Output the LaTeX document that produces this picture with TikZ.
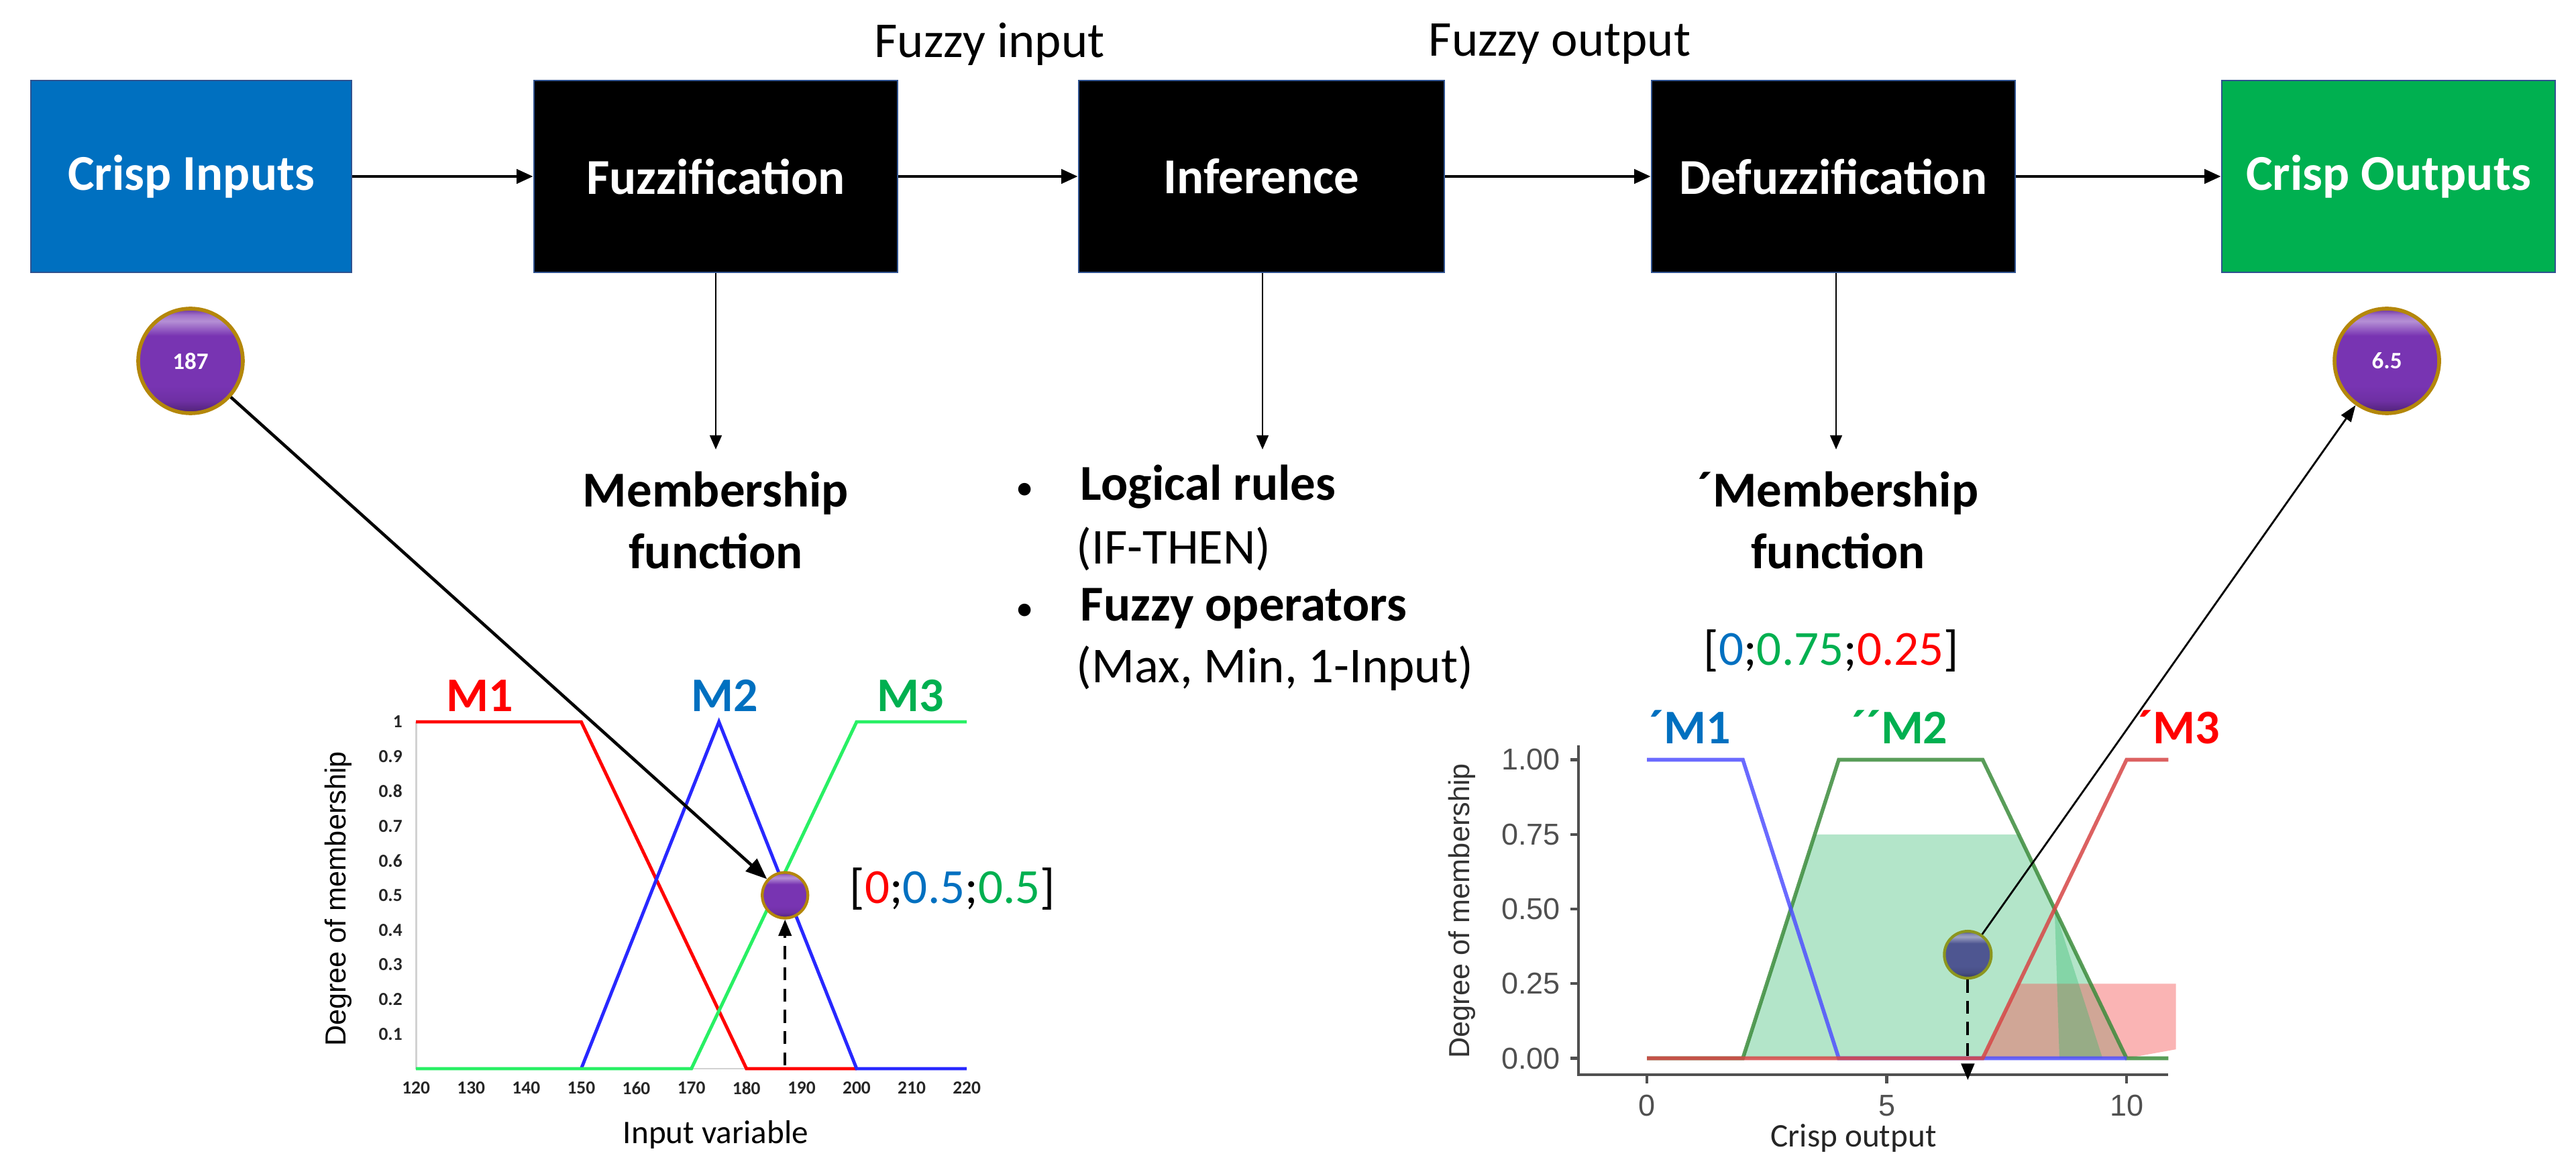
\documentclass[tikz,border=0pt]{standalone}
\usepackage{fontspec}
\setmainfont{Carlito}
\newfontfamily\arialf{Liberation Sans}
\usetikzlibrary{arrows.meta,shadings}
\definecolor{cblue}{RGB}{0,112,192}
\definecolor{cgreen}{RGB}{0,176,80}
\definecolor{bord}{RGB}{47,82,143}
\definecolor{bpurple}{RGB}{120,52,178}
\definecolor{bgold}{RGB}{180,135,10}
\definecolor{lred}{RGB}{255,0,0}
\definecolor{lblue}{RGB}{40,40,255}
\definecolor{lgreen}{RGB}{40,240,100}
\definecolor{rblue}{RGB}{80,80,255}
\definecolor{rgreen}{RGB}{60,140,60}
\definecolor{rred}{RGB}{215,70,70}
\definecolor{fgreen}{RGB}{46,184,106}
\definecolor{fred}{RGB}{245,90,90}
\definecolor{rballc}{RGB}{78,86,145}
\definecolor{rballb}{RGB}{140,150,30}
\definecolor{axgray}{RGB}{80,80,80}
\pgfdeclareverticalshading{purpball}{100bp}{color(0bp)=(bpurple!65!black); color(25bp)=(bpurple!65!black); color(31bp)=(bpurple!92!black); color(38bp)=(bpurple); color(62bp)=(bpurple); color(69bp)=(bpurple!55!white); color(72bp)=(bpurple!70!white); color(75bp)=(bpurple!85!black); color(100bp)=(bpurple!85!black)}
\pgfdeclareverticalshading{slateball}{100bp}{color(0bp)=(rballc!65!black); color(25bp)=(rballc!65!black); color(31bp)=(rballc!92!black); color(38bp)=(rballc); color(62bp)=(rballc); color(69bp)=(rballc!55!white); color(72bp)=(rballc!70!white); color(75bp)=(rballc!85!black); color(100bp)=(rballc!85!black)}
\tikzset{
  box/.style={draw=bord, line width=0.8pt, minimum height=2.86cm, inner sep=0pt,
    text=white, font=\fontsize{21.3}{25}\selectfont\bfseries},
  lbl/.style={inner sep=0pt, font=\fontsize{21.3}{25}\selectfont},
  blbl/.style={inner sep=0pt, font=\fontsize{21.3}{25}\selectfont\bfseries},
  bullet/.style={inner sep=0pt, font=\fontsize{15}{18}\selectfont},
  mlbl/.style={inner sep=0pt, font=\fontsize{20.5}{24}\selectfont\bfseries},
  vlbl/.style={inner sep=0pt, font=\fontsize{20.8}{24}\selectfont},
  harrow/.style={line width=1.3pt, -{Triangle[length=7pt,width=6pt]}},
  varrow/.style={line width=0.8pt, -{Triangle[length=6pt,width=5pt]}},
  bigarrow/.style={line width=1.3pt, -{Triangle[length=9pt,width=7pt]}},
  thinarrow/.style={line width=0.8pt, -{Triangle[length=7pt,width=5pt]}},
  dasharrow/.style={line width=1.1pt, dash pattern=on 5.5pt off 3.5pt, -{Triangle[length=7pt,width=5.5pt]}},
  valball/.style={circle, minimum size=1.56cm, inner sep=0pt, shading=purpball, draw=bgold, line width=1.6pt,
    text=white, font=\fontsize{10}{12}\selectfont\bfseries},
  lballst/.style={circle, minimum size=0.68cm, inner sep=0pt, shading=purpball, draw=bgold, line width=1.2pt},
  rballst/.style={circle, minimum size=0.70cm, inner sep=0pt, shading=slateball, draw=rballb, line width=1.2pt},
  ltick/.style={inner sep=0pt, font=\fontsize{7.8}{9}\selectfont\bfseries, text=black!85},
  rtick/.style={inner sep=0pt, font=\fontsize{12.8}{15}\selectfont\arialf, text=axgray},
  lcurve/.style={line width=1.4pt},
  rcurve/.style={line width=1.6pt, opacity=0.85},
}
\begin{document}
\begin{tikzpicture}
\useasboundingbox (0,0) rectangle (38.4,-17.5);
\fill[white] (0,0) rectangle (38.4,-17.5);

% top row
\node[box, fill=cblue, minimum width=4.78cm] (ci) at (2.85,-2.63) {Crisp Inputs};
\node[box, fill=black, minimum width=5.42cm] (fz) at (10.67,-2.63) {Fuzzification};
\node[box, fill=black, minimum width=5.45cm] (inf) at (18.805,-2.63) {Inference};
\node[box, fill=black, minimum width=5.42cm] (dfz) at (27.33,-2.63) {Defuzzification};
\node[box, fill=cgreen, minimum width=4.97cm] (co) at (35.605,-2.63) {Crisp Outputs};

\node[lbl] (fin) at (14.75,-0.66) {Fuzzy input};
\node[lbl] (fout) at (23.25,-0.66) {Fuzzy output};

\draw[harrow] (ci) -- (fz);
\draw[harrow] (fz) -- (inf);
\draw[harrow] (inf) -- (dfz);
\draw[harrow] (dfz) -- (co);

% down arrows and texts
\coordinate (fzend) at (10.67,-6.70);
\coordinate (infend) at (18.82,-6.70);
\coordinate (dfzend) at (27.37,-6.70);
\draw[varrow] (fz.south) -- (fzend);
\draw[varrow] (inf.south -| infend) -- (infend);
\draw[varrow] (dfz.south -| dfzend) -- (dfzend);

\node[blbl, anchor=base] (mf1a) at (10.67,-7.55) {Membership};
\node[blbl, anchor=base] (mf1b) at (10.67,-8.47) {function};
\node[blbl, anchor=base] (mf2a) at (27.40,-7.55) {´Membership};
\node[blbl, anchor=base] (mf2b) at (27.40,-8.47) {function};

\node[bullet] (b1) at (15.28,-7.32) {\textbullet};
\node[blbl, anchor=base west] (lr) at (16.10,-7.45) {Logical rules};
\node[lbl, anchor=base west] (ift) at (16.04,-8.40) {(IF-THEN)};
\node[bullet] (b2) at (15.28,-9.12) {\textbullet};
\node[blbl, anchor=base west] (fo) at (16.10,-9.25) {Fuzzy operators};
\node[lbl, anchor=base west] (mm) at (16.04,-10.17) {(Max, Min, 1-Input)};

% value balls
\node[valball] (c187) at (2.84,-5.38) {187};
\node[valball] (c65) at (35.58,-5.38) {6.5};

% ---------- left chart ----------
\begin{scope}[shift={(-3.652,-15.93)}, x=0.0821cm, y=5.17cm]
  \draw[gray!35, line width=0.8pt] (120,1) -- (120,0) -- (220,0);
  \foreach \v in {120,130,...,220} \node[ltick] at (\v,-0.056) {\v};
  \foreach \m/\t in {1/1,0.9/0.9,0.8/0.8,0.7/0.7,0.6/0.6,0.5/0.5,0.4/0.4,0.3/0.3,0.2/0.2,0.1/0.1}
    \node[ltick, anchor=east] at (117.6,\m) {\t};
  \draw[lcurve, lred] (120,1) -- (150,1) -- (180,0) -- (200,0);
  \draw[lcurve, lblue] (150,0) -- (175,1) -- (200,0) -- (220,0);
  \draw[lcurve, lgreen] (120,0) -- (170,0) -- (200,1) -- (220,1);
  \coordinate (l187) at (187,0.01);
  \node[lballst] (lball) at (187,0.5) {};
\end{scope}
\node[inner sep=0pt, rotate=90, font=\fontsize{12.3}{14}\selectfont\arialf] (ldeg) at (5.04,-13.40) {Degree of membership};
\node[inner sep=0pt, font=\fontsize{14}{16}\selectfont] (livar) at (10.67,-16.91) {Input variable};
\node[mlbl, text=lred] (m1) at (7.15,-10.37) {M1};
\node[mlbl, text=cblue] (m2) at (10.80,-10.37) {M2};
\node[mlbl, text=cgreen] (m3) at (13.57,-10.37) {M3};
\node[vlbl] (lvec) at (14.20,-13.25) {[\textcolor{lred}{0};\textcolor{cblue}{0.5};\textcolor{cgreen}{0.5}]};
\draw[dasharrow] (l187) -- (lball);
\draw[bigarrow] (c187) -- (lball);

% ---------- right chart ----------
\begin{scope}[shift={(24.55,-15.775)}, x=0.715cm, y=4.45cm]
  \fill[fgreen, opacity=0.36] (2,0) -- (3.5,0.75) -- (7.75,0.75) -- (10,0) -- cycle;
  \fill[fred, opacity=0.45] (7,0) -- (7.75,0.25) -- (11.03,0.25) -- (11.03,0.03) -- (10,0) -- cycle;
  \fill[fgreen, opacity=0.35] (8.5,0.5) -- (8.6,0) -- (9.5,0) -- cycle;
  \draw[axgray, line width=1.2pt] (-1.43,1.048) -- (-1.43,-0.055) -- (10.87,-0.055);
  \foreach \m/\t in {1/1.00,0.75/0.75,0.5/0.50,0.25/0.25,0/0.00} {
    \draw[axgray, line width=1.2pt] (-1.43,\m) -- (-1.6,\m);
    \node[rtick, anchor=east] at (-1.80,\m) {\t};
  }
  \foreach \v in {0,5,10} {
    \draw[axgray, line width=1.2pt] (\v,-0.055) -- (\v,-0.085);
    \node[rtick] at (\v,-0.158) {\v};
  }
  \draw[rcurve, rgreen] (0,0) -- (2,0) -- (4,1) -- (7,1) -- (10,0) -- (10.87,0);
  \draw[rcurve, rblue] (0,1) -- (2,1) -- (4,0) -- (10,0);
  \draw[rcurve, rred] (0,0) -- (7,0) -- (10,1) -- (10.87,1);
  \coordinate (r65) at (6.69,-0.073);
  \node[rballst] (rball) at (6.69,0.347) {};
\end{scope}
\node[inner sep=0pt, rotate=90, font=\fontsize{12.3}{14}\selectfont\arialf, text=black!80] (rdeg) at (21.79,-13.58) {Degree of membership};
\node[inner sep=0pt, font=\fontsize{14}{16}\selectfont, text=black!85] (rcout) at (27.63,-16.97) {Crisp output};
\node[mlbl, text=cblue] (rm1) at (25.19,-10.84) {´M1};
\node[mlbl, text=cgreen] (rm2) at (28.32,-10.84) {´´M2};
\node[mlbl, text=lred] (rm3) at (32.48,-10.84) {´M3};
\node[vlbl] (rvec) at (27.30,-9.70) {[\textcolor{cblue}{0};\textcolor{cgreen}{0.75};\textcolor{lred}{0.25}]};
\draw[dasharrow] (rball) -- (r65);
\draw[thinarrow] (rball) -- (c65);
\end{tikzpicture}
\end{document}
